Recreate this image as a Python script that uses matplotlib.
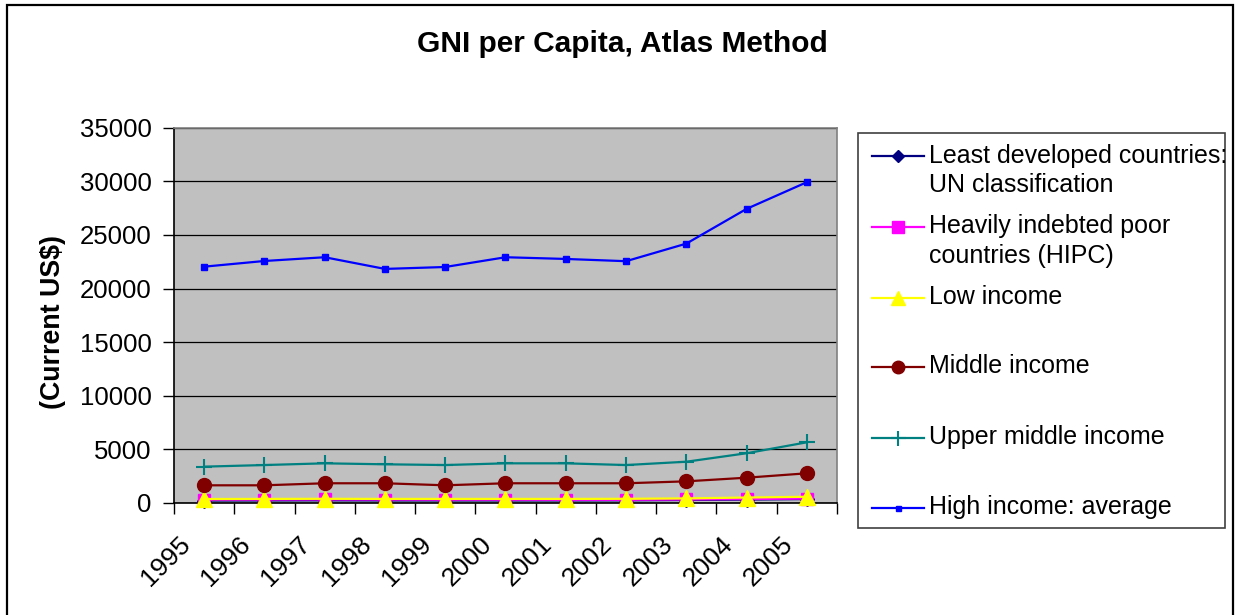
import matplotlib
matplotlib.use("Agg")
import matplotlib.pyplot as plt
from matplotlib.lines import Line2D
from matplotlib.patches import Rectangle
import matplotlib.transforms as mtransforms

plt.rcParams['font.family'] = ['Liberation Sans', 'DejaVu Sans']

years = ["1995", "1996", "1997", "1998", "1999", "2000", "2001", "2002", "2003", "2004", "2005"]
least_developed = [230, 240, 250, 240, 240, 240, 240, 250, 280, 320, 370]
hipc = [310, 320, 330, 320, 310, 310, 300, 300, 330, 370, 410]
low_income = [370, 380, 390, 380, 380, 380, 380, 390, 430, 510, 580]
middle_income = [1650, 1650, 1840, 1840, 1650, 1840, 1840, 1840, 2020, 2360, 2770]
upper_middle = [3390, 3540, 3700, 3610, 3540, 3700, 3700, 3540, 3850, 4640, 5660]
high_income = [22040, 22570, 22920, 21830, 22010, 22920, 22760, 22550, 24190, 27430, 29920]

series = [
    ("Least developed countries:\nUN classification", least_developed, "#000080", "D", 7, "#000080"),
    ("Heavily indebted poor\ncountries (HIPC)", hipc, "#FF00FF", "s", 9, "#FF00FF"),
    ("Low income", low_income, "#FFFF00", "^", 11, "#FFFF00"),
    ("Middle income", middle_income, "#800000", "o", 10, "#800000"),
    ("Upper middle income", upper_middle, "#008080", "+", 12, "#008080"),
    ("High income: average", high_income, "#0000FF", "s", 4, "#0000FF"),
]

W, H = 1239, 615
fig = plt.figure(figsize=(W / 100, H / 100), dpi=100)

def fx(px):
    return px / W

def fy(py):
    return 1 - py / H

# outer border
fig.add_artist(Rectangle((fx(7), fy(625)), fx(1233) - fx(7), fy(5) - fy(625),
                         transform=fig.transFigure, fill=False, edgecolor='black', lw=1.6))

ax = fig.add_axes([fx(174), fy(503), fx(837) - fx(174), fy(127.7) - fy(503)])
ax.set_facecolor('#C0C0C0')

x = list(range(len(years)))
for label, vals, color, marker, ms, mfc in series:
    mew = 1.5 if marker == "+" else 1.0
    ax.plot(x, vals, color=color, lw=1.6, marker=marker, markersize=ms,
            markerfacecolor=mfc, markeredgecolor=color, markeredgewidth=mew, clip_on=False, zorder=3)

ax.set_xlim(-0.5, len(years) - 0.5)
ax.set_ylim(0, 35000)
ax.set_yticks(range(0, 35001, 5000))
ax.yaxis.grid(True, color='black', lw=0.9)
ax.set_axisbelow(True)

ax.set_xticks(x)
ax.set_xticklabels(years)
ax.set_xticks([i - 0.5 for i in range(len(years) + 1)], minor=True)
ax.tick_params(axis='x', which='major', length=0, pad=21, labelsize=19)
ax.tick_params(axis='x', which='minor', length=8, width=1, direction='out', color='black')
ax.tick_params(axis='y', length=8, width=1, direction='out', pad=8, labelsize=18.5)

offset = mtransforms.ScaledTranslation(-26 / 100, 0, fig.dpi_scale_trans)
for lbl in ax.get_xticklabels():
    lbl.set_rotation(45)
    lbl.set_ha('right')
    lbl.set_va('top')
    lbl.set_rotation_mode('anchor')
    lbl.set_transform(lbl.get_transform() + offset)

for side in ['top', 'right']:
    ax.spines[side].set_color('#808080')
    ax.spines[side].set_linewidth(1.2)
for side in ['left', 'bottom']:
    ax.spines[side].set_color('black')
    ax.spines[side].set_linewidth(1.2)

fig.text(fx(622.5), fy(44), "GNI per Capita, Atlas Method", ha='center', va='center',
         fontsize=21.5, fontweight='bold')
fig.text(fx(53), fy(322), "(Current US$)", ha='center', va='center', rotation=90,
         fontsize=19.3, fontweight='bold')

# legend box
fig.add_artist(Rectangle((fx(858), fy(528)), fx(1225) - fx(858), fy(133) - fy(528),
                         transform=fig.transFigure, fill=True, facecolor='white',
                         edgecolor='#404040', lw=1.2))
entry_y = [156.5, 227, 297.5, 367, 438, 508]
for (label, vals, color, marker, ms, mfc), ey in zip(series, entry_y):
    fig.add_artist(Line2D([fx(872), fx(924)], [fy(ey), fy(ey)], transform=fig.transFigure,
                          color=color, lw=1.6))
    mew = 1.5 if marker == "+" else 1.0
    fig.add_artist(Line2D([fx(898)], [fy(ey)], transform=fig.transFigure, color=color,
                          marker=marker, markersize=ms * 0.9, markerfacecolor=mfc,
                          markeredgecolor=color, markeredgewidth=mew, linestyle='none'))
    fig.text(fx(929), fy(ey - 13), label, ha='left', va='top', fontsize=18,
             linespacing=1.3)

fig.savefig("out.png", dpi=100)
